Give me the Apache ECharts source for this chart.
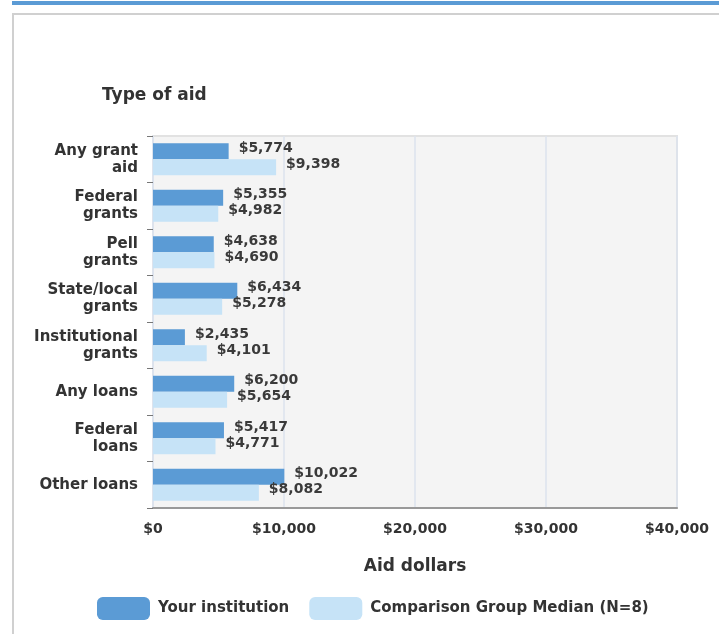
<!DOCTYPE html>
<html>
<head>
<meta charset="utf-8">
<script src="https://cdn.jsdelivr.net/npm/echarts@6/dist/echarts.min.js"></script>
<style>
html,body{margin:0;padding:0;background:#fff;}
#chart{width:719px;height:634px;}
</style>
</head>
<body>
<div id="chart"></div>
<script>
var categories = ['Any grant\naid', 'Federal\ngrants', 'Pell\ngrants', 'State/local\ngrants', 'Institutional\ngrants', 'Any loans', 'Federal\nloans', 'Other loans'];
var yourInstitution = [5774, 5355, 4638, 6434, 2435, 6200, 5417, 10022];
var comparisonMedian = [9398, 4982, 4690, 5278, 4101, 5654, 4771, 8082];
var seriesNames = ['Your institution', 'Comparison Group Median (N=8)'];
var xTicks = [0, 10000, 20000, 30000, 40000];

var FONT = 'DejaVu Sans';
function money(v){ return '$' + Number(v).toLocaleString('en-US'); }

var chart = echarts.init(document.getElementById('chart'), null, {renderer:'canvas'});
chart.setOption({
  animation: false,
  backgroundColor: '#ffffff',
  graphic: [
    {type:'rect', shape:{x:12, y:1, width:720, height:4}, style:{fill:'#5b9bd5'}, z:-1},
    {type:'rect', shape:{x:13, y:14, width:720, height:700}, style:{fill:'none', stroke:'#d0d0d0', lineWidth:2}, z:-1}
  ],
  title: {
    text: 'Type of aid',
    left: 102, top: 87, padding: 0,
    textStyle: {fontFamily: FONT, fontSize: 17, fontWeight: 'bold', color: '#333'}
  },
  grid: {
    left: 153, right: 42, top: 136, bottom: 126,
    show: true, backgroundColor: '#f4f4f4', borderColor: '#e2e2e2', borderWidth: 2,
    containLabel: false
  },
  xAxis: {
    type: 'value',
    min: xTicks[0], max: xTicks[xTicks.length-1], interval: xTicks[1]-xTicks[0],
    axisLine: {show: true, lineStyle: {color: '#999', width: 2}},
    axisTick: {show: false},
    splitLine: {show: true, lineStyle: {color: '#dde3ee', width: 1.5}},
    axisLabel: {formatter: money, margin: 14, fontFamily: FONT, fontSize: 14, fontWeight: 'bold', color: '#333'},
    name: 'Aid dollars', nameLocation: 'middle', nameGap: 50,
    nameTextStyle: {fontFamily: FONT, fontSize: 17, fontWeight: 'bold', color: '#333'}
  },
  yAxis: {
    type: 'category',
    data: categories,
    inverse: true,
    axisLine: {show: true, lineStyle: {color: '#dde3ee', width: 1.5}},
    axisTick: {show: true, length: 6, lineStyle: {color: '#777'}},
    axisLabel: {margin: 15, fontFamily: FONT, fontSize: 15, fontWeight: 'bold', color: '#333', lineHeight: 17, align: 'right'}
  },
  legend: {
    data: seriesNames,
    left: 97, top: 597, padding: 0,
    itemWidth: 53, itemHeight: 23, itemGap: 20,
    icon: 'roundRect',
    textStyle: {fontFamily: FONT, fontSize: 15, fontWeight: 'bold', color: '#333', padding: [0,0,0,3]}
  },
  series: [
    {
      name: seriesNames[0], type: 'bar', data: yourInstitution,
      barWidth: 16, barGap: '0%',
      itemStyle: {color: '#5b9bd5'},
      label: {show: true, position: 'right', distance: 10, offset: [0,-3], formatter: function(p){return money(p.value);},
        fontFamily: FONT, fontSize: 14, fontWeight: 'bold', color: '#3a3a3a'}
    },
    {
      name: seriesNames[1], type: 'bar', data: comparisonMedian,
      barWidth: 16, barGap: '0%',
      itemStyle: {color: '#c6e3f7'},
      label: {show: true, position: 'right', distance: 10, offset: [0,-3], formatter: function(p){return money(p.value);},
        fontFamily: FONT, fontSize: 14, fontWeight: 'bold', color: '#3a3a3a'}
    }
  ]
});
</script>
</body>
</html>
